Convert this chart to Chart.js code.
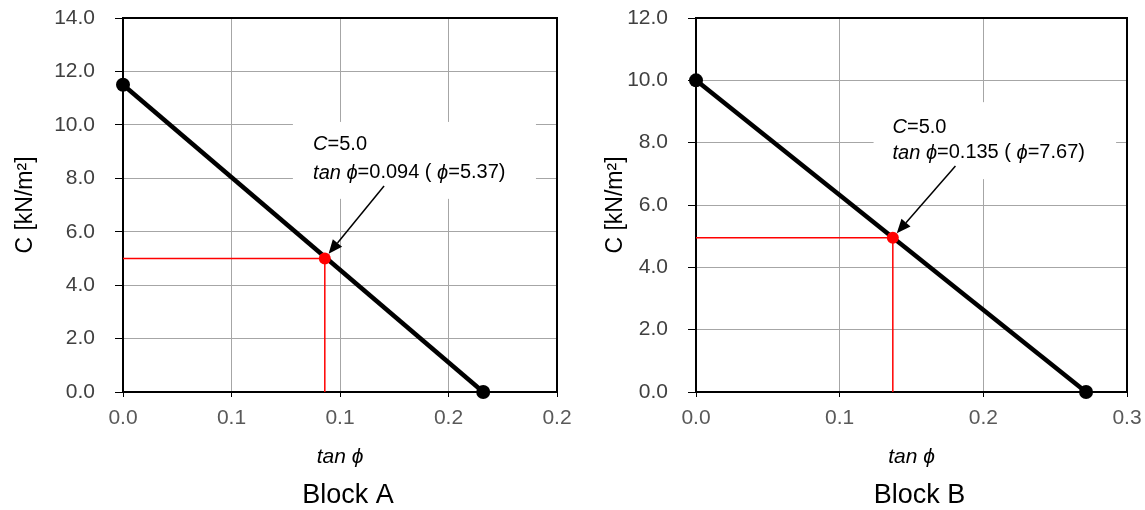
<!DOCTYPE html>
<html><head><meta charset="utf-8">
<script src="https://cdn.jsdelivr.net/npm/chart.js@4.4.1/dist/chart.umd.min.js"></script>
<style>
html,body{margin:0;padding:0;background:#fff;}
#wrap{position:relative;width:1145px;height:510px;overflow:hidden;background:#fff;}
canvas{position:absolute;top:0;}
#ca{left:0;} #cb{left:572px;}
</style></head><body>
<div id="wrap"><canvas id="ca" width="572" height="510"></canvas><canvas id="cb" width="573" height="510"></canvas></div>
<script>
// ---------- Block A ----------
const blockA_lineTanPhi = [0, 0.166];
const blockA_lineC = [11.5, 0];
const blockA_pointTanPhi = [0.093];
const blockA_pointC = [5.0];
const blockA_xTickLabels = ['0.0', '0.1', '0.1', '0.2', '0.2'];
const blockA_yTickLabels = ['0.0', '2.0', '4.0', '6.0', '8.0', '10.0', '12.0', '14.0'];
const blockA_noteValues = ['5.0', '0.094', '5.37'];
// ---------- Block B ----------
const blockB_lineTanPhi = [0, 0.2715];
const blockB_lineC = [10.0, 0];
const blockB_pointTanPhi = [0.137];
const blockB_pointC = [4.95];
const blockB_xTickLabels = ['0.0', '0.1', '0.2', '0.3'];
const blockB_yTickLabels = ['0.0', '2.0', '4.0', '6.0', '8.0', '10.0', '12.0'];
const blockB_noteValues = ['5.0', '0.135', '7.67'];

const FONT = '"Liberation Sans", Arial, sans-serif';

const framePlugin = {
  id: 'frame',
  beforeDatasetsDraw(chart, args, o) {
    const {ctx, chartArea: a, scales: {x, y}} = chart;
    ctx.save();
    if (o.box) {
      const x0 = x.getPixelForValue(o.box[0]), x1 = x.getPixelForValue(o.box[1]);
      const y0 = y.getPixelForValue(o.box[2]), y1 = y.getPixelForValue(o.box[3]);
      ctx.fillStyle = '#fff';
      ctx.fillRect(x0, y0, x1 - x0, y1 - y0);
    }
    ctx.strokeStyle = '#000';
    ctx.lineWidth = 2;
    ctx.strokeRect(a.left, a.top, a.right - a.left, a.bottom - a.top);
    ctx.restore();
  },
  afterDatasetsDraw(chart, args, o) {
    const {ctx, chartArea: a, scales: {x, y}} = chart;
    ctx.save();
    const fs = o.fontSize;
    const runs = [
      [{t: 'C', i: true}, {t: '=' + o.values[0]}],
      [{t: 'tan ', i: true}, {t: 'ϕ', i: true}, {t: '=' + o.values[1] + ' ( '}, {t: 'ϕ', i: true}, {t: '=' + o.values[2] + ')'}]
    ];
    ctx.fillStyle = '#000';
    ctx.textBaseline = 'middle';
    ctx.textAlign = 'left';
    const tx = x.getPixelForValue(o.textX);
    o.textY.forEach((ty, li) => {
      let cx = tx;
      const py = y.getPixelForValue(ty);
      runs[li].forEach(r => {
        ctx.font = (r.i ? 'italic ' : '') + fs + 'px ' + FONT;
        ctx.fillText(r.t, cx, py);
        cx += ctx.measureText(r.t).width;
      });
    });
    const t0x = x.getPixelForValue(o.tail[0]), t0y = y.getPixelForValue(o.tail[1]);
    const px = x.getPixelForValue(o.target[0]), py = y.getPixelForValue(o.target[1]);
    let dx = px - t0x, dy = py - t0y;
    const len = Math.hypot(dx, dy); dx /= len; dy /= len;
    const tipX = px - dx * 6, tipY = py - dy * 6;
    const hl = 14, hw = 6;
    const bX = tipX - dx * hl, bY = tipY - dy * hl;
    ctx.strokeStyle = '#000';
    ctx.lineWidth = 1.5;
    ctx.beginPath(); ctx.moveTo(t0x, t0y); ctx.lineTo(bX, bY); ctx.stroke();
    ctx.beginPath();
    ctx.moveTo(tipX, tipY);
    ctx.lineTo(bX - dy * hw, bY + dx * hw);
    ctx.lineTo(bX + dy * hw, bY - dx * hw);
    ctx.closePath(); ctx.fill();
    ctx.font = '27px ' + FONT;
    ctx.textAlign = 'center';
    ctx.fillText(o.block, (a.left + a.right) / 2 + o.blockDx, 496);
    ctx.restore();
  }
};

function pts(xs, ys) { return xs.map((v, i) => ({x: v, y: ys[i]})); }

function makeChart(id, d) {
  const guide = [{x: 0, y: d.pC[0]}, {x: d.pT[0], y: d.pC[0]}, {x: d.pT[0], y: 0}];
  return new Chart(document.getElementById(id), {
    type: 'scatter',
    data: {
      datasets: [
        {data: pts(d.pT, d.pC), pointRadius: 6, pointBackgroundColor: '#ff0000', pointBorderColor: '#ff0000', pointBorderWidth: 0, showLine: false, order: 0, clip: false},
        {data: guide, showLine: true, borderColor: '#ff0000', borderWidth: 1.5, pointRadius: 0, order: 1, clip: false},
        {data: pts(d.lT, d.lC), showLine: true, borderColor: '#000', borderWidth: 4.5, pointRadius: 7, pointBackgroundColor: '#000', pointBorderColor: '#000', pointBorderWidth: 0, order: 2, clip: false}
      ]
    },
    options: {
      responsive: false, animation: false,
      layout: {padding: {left: 0, right: d.padRight, top: 18, bottom: 0}},
      plugins: {
        legend: {display: false}, tooltip: {enabled: false},
        frame: d.note
      },
      scales: {
        x: {
          type: 'linear', min: 0, max: d.xMax,
          afterFit: s => { s.height = 118; s.paddingLeft = 0; s.paddingRight = 0; },
          afterBuildTicks: s => { s.ticks = d.xLabels.map((_, i) => ({value: i * d.xStep})); },
          ticks: {callback: (v, i) => d.xLabels[i], color: '#595959', font: {family: FONT, size: 21}, padding: 9, maxRotation: 0, autoSkip: false},
          grid: {color: '#a6a6a6', lineWidth: 1, tickColor: '#000', tickLength: 5},
          border: {display: false},
          title: {display: true, text: 'tan ϕ', color: '#000', font: {family: FONT, size: 21, style: 'italic'}, padding: {top: 0, bottom: 40}}
        },
        y: {
          type: 'linear', min: 0, max: d.yMax,
          afterFit: s => { s.width = d.yWidth; s.paddingTop = 0; s.paddingBottom = 0; },
          afterBuildTicks: s => { s.ticks = d.yLabels.map((_, i) => ({value: i * 2})); },
          ticks: {callback: (v, i) => d.yLabels[i], color: '#404040', font: {family: FONT, size: 21}, padding: 20, autoSkip: false},
          grid: {color: '#a6a6a6', lineWidth: 1, tickColor: '#000', tickLength: 8},
          border: {display: false},
          title: {display: true, text: 'C [kN/m²]', color: '#000', font: {family: FONT, size: 23}, padding: {top: d.yTitlePad, bottom: 0}}
        }
      }
    },
    plugins: [framePlugin]
  });
}

makeChart('ca', {
  lT: blockA_lineTanPhi, lC: blockA_lineC, pT: blockA_pointTanPhi, pC: blockA_pointC,
  xMax: 0.2, xStep: 0.05, yMax: 14, xLabels: blockA_xTickLabels, yLabels: blockA_yTickLabels,
  padRight: 15, yWidth: 123, yTitlePad: 12,
  note: {box: [0.0783, 0.1903, 10.11, 7.23], textX: 0.0876, textY: [9.25, 8.2], values: blockA_noteValues,
         fontSize: 20, tail: [0.1203, 7.71], target: [blockA_pointTanPhi[0], blockA_pointC[0]], block: 'Block A', blockDx: 8}
});
makeChart('cb', {
  lT: blockB_lineTanPhi, lC: blockB_lineC, pT: blockB_pointTanPhi, pC: blockB_pointC,
  xMax: 0.3, xStep: 0.1, yMax: 12, xLabels: blockB_xTickLabels, yLabels: blockB_yTickLabels,
  padRight: 18, yWidth: 124, yTitlePad: 30,
  note: {box: [0.1236, 0.2924, 9.30, 6.83], textX: 0.1368, textY: [8.5, 7.67], values: blockB_noteValues,
         fontSize: 20, tail: [0.1806, 7.25], target: [blockB_pointTanPhi[0], blockB_pointC[0]], block: 'Block B', blockDx: 8}
});
</script>
</body></html>
